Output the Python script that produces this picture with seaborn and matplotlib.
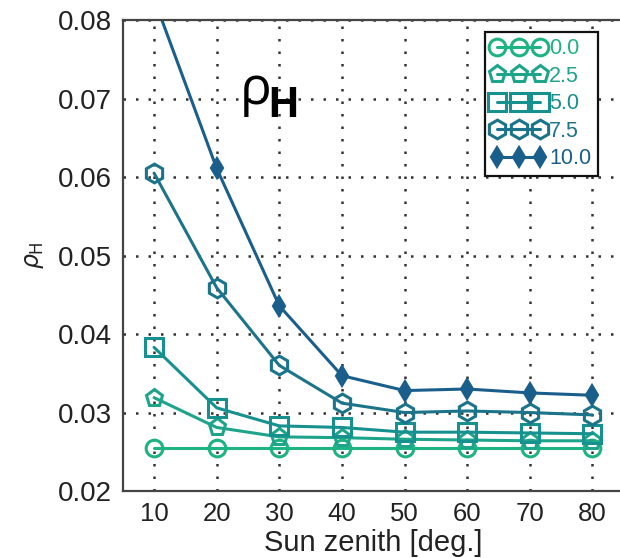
import numpy as np
import pandas as pd
import matplotlib
matplotlib.use("Agg")
import matplotlib.pyplot as plt
import seaborn as sns

# sun zenith angles and rho_H curves for each wind speed
zenith = [10, 20, 30, 40, 50, 60, 70, 80]
wind_labels = ['0.0', '2.5', '5.0', '7.5', '10.0']
rho_00 = [0.0255, 0.0255, 0.0255, 0.0255, 0.0255, 0.0255, 0.0255, 0.0255]
rho_25 = [0.0319, 0.0281, 0.0269, 0.0268, 0.0266, 0.0265, 0.0264, 0.0264]
rho_50 = [0.0383, 0.0306, 0.0283, 0.0281, 0.0275, 0.0275, 0.0274, 0.0273]
rho_75 = [0.0605, 0.0459, 0.0360, 0.0312, 0.0300, 0.0302, 0.0300, 0.0297]
rho_100 = [0.0827, 0.0611, 0.0436, 0.0347, 0.0328, 0.0330, 0.0325, 0.0322]

colors = ['#1db383', '#1ea48a', '#17918f', '#1b7489', '#1a5f8c']
markers = ['o', 'p', 's', 'h', 'd']
msizes = [12, 12.5, 13, 13.5, 10]

rows = []
for lab, vals in zip(wind_labels, [rho_00, rho_25, rho_50, rho_75, rho_100]):
    for z, v in zip(zenith, vals):
        rows.append({'zenith': z, 'rho': v, 'wind': lab})
df = pd.DataFrame(rows)

sns.set_style("white")
plt.rcParams['font.family'] = ['Liberation Sans', 'DejaVu Sans']

fig = plt.figure(figsize=(6.2, 5.58), dpi=100)
ax = fig.add_axes([0.198, 0.12, 0.808, 0.844])

sns.lineplot(data=df, x='zenith', y='rho', hue='wind', hue_order=wind_labels,
             palette=colors, style='wind', style_order=wind_labels,
             markers=dict(zip(wind_labels, markers)), dashes=False,
             linewidth=2.2, legend=False, ax=ax)

handles = []
for line, c, m, ms in zip(ax.lines, colors, markers, msizes):
    line.set_color(c)
    line.set_markersize(ms)
    line.set_markeredgecolor(c)
    line.set_markeredgewidth(1.6 if m == 'd' else 2.2)
    line.set_markerfacecolor(c if m == 'd' else 'none')
    handles.append(line)

ax.set_xlim(5, 85)
ax.set_ylim(0.02, 0.08)
ax.set_xticks(zenith)
ax.set_yticks([0.02, 0.03, 0.04, 0.05, 0.06, 0.07, 0.08])
ax.set_yticklabels(['0.02', '0.03', '0.04', '0.05', '0.06', '0.07', '0.08'])
ax.grid(True, color='#333333', linestyle=(0, (1, 4)), linewidth=1.8)
ax.set_axisbelow(True)
ax.tick_params(axis='both', length=0, colors='#222222', pad=8)
ax.tick_params(axis='y', labelsize=20)
ax.tick_params(axis='x', labelsize=18.5)
for s in ax.spines.values():
    s.set_color('#444444')
    s.set_linewidth(1.6)
ax.spines['right'].set_visible(False)

ax.set_xlabel('Sun zenith [deg.]', fontsize=21, color='#222222', labelpad=2)
ax.set_ylabel(r'$\rho_{\rm H}$', fontsize=17, color='#222222', labelpad=8)

leg = ax.legend(handles, wind_labels, loc='upper right', bbox_to_anchor=(0.948, 0.975),
                borderaxespad=0, numpoints=3, handlelength=2.6, handletextpad=0.1,
                labelspacing=0.3, borderpad=0.3, fontsize=15.5, fancybox=False,
                framealpha=1, edgecolor='#111111')
leg.get_frame().set_linewidth(1.6)
for txt, c in zip(leg.get_texts(), colors):
    txt.set_color(c)

# big overlay label
ax.text(0.233, 0.794, 'ρ', transform=ax.transAxes, fontsize=38, family='Open Sans',
        ha='left', va='bottom', color='black')
ax.text(0.289, 0.794, 'H', transform=ax.transAxes, fontsize=30, family='Open Sans',
        fontweight='bold', ha='left', va='baseline', color='black')

fig.savefig('out.png', dpi=100)
